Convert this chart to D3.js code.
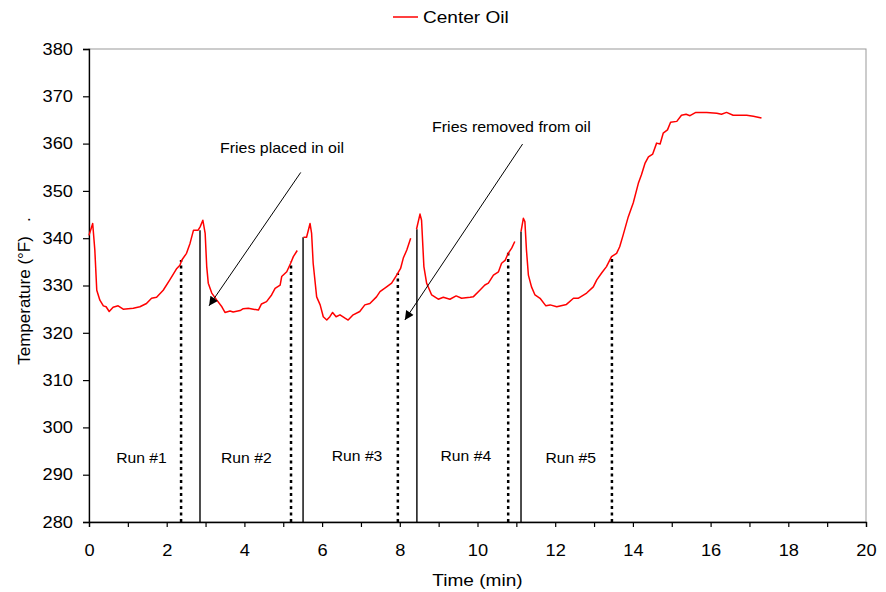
<!DOCTYPE html>
<html><head><meta charset="utf-8">
<script src="https://cdn.jsdelivr.net/npm/d3@7"></script>
<style>
body{margin:0;background:#fff;}
text{font-family:Arial,"Liberation Sans",sans-serif;fill:#000;}
</style></head>
<body><svg id="c" width="886" height="592"></svg>
<script>
// ---- data ----
const time = [0,0.095,0.15,0.2,0.28,0.37,0.44,0.52,0.62,0.75,0.88,1.14,1.31,1.48,1.61,1.74,1.91,2.08,2.26,2.34,2.39,2.51,2.6,2.69,2.81,2.86,2.93,2.99,3.03,3.07,3.16,3.29,3.42,3.5,3.63,3.71,3.89,3.97,4.1,4.23,4.36,4.44,4.57,4.7,4.79,4.92,4.96,5.09,5.19,5.26,5.36,
 5.44,
 5.52,5.6,5.69,5.73,5.77,5.86,5.95,6.03,6.12,6.2,6.27,6.36,6.46,6.59,6.67,6.8,6.97,7.1,7.23,7.4,7.49,7.66,7.79,7.92,8.02,8.09,8.18,8.28,
 8.36,
 8.43,8.52,8.56,8.62,8.69,8.82,8.99,9.12,9.29,9.45,9.59,9.81,9.89,10.06,10.19,10.28,10.41,10.54,10.62,10.71,10.79,10.88,10.96,
 11.04,
 11.12,11.18,11.22,11.26,11.31,11.39,11.48,11.61,11.76,11.87,12.04,12.29,12.47,12.59,12.81,12.98,13.07,13.2,13.32,13.45,13.58,13.66,13.75,13.88,14.01,14.14,14.22,14.31,14.4,14.51,14.61,14.7,14.78,14.89,14.97,15.13,15.25,15.37,15.47,15.62,15.9,16.16,16.28,16.41,16.58,16.93,17.1,17.31];
const centerOil = [340.6,343.1,337.5,329,326.9,325.7,325.5,324.5,325.4,325.7,325,325.2,325.5,326.2,327.3,327.5,329,331.2,333.6,334.3,335.4,336.8,338.9,341.7,341.7,342.4,343.8,341,334,330.5,328.4,326.9,325.5,324.3,324.6,324.4,324.7,325.1,325.2,325,324.8,326.1,326.6,328,329.4,330.1,331.9,332.9,334.7,336.1,337.4,
 null,
 340.2,340.2,343.1,341,334.7,327.6,325.9,323.4,322.7,323.4,324.3,323.4,323.8,323.1,322.7,323.8,324.5,325.9,326.2,327.6,328.7,329.7,330.5,332.2,333.6,335.8,337.5,340,
 null,
 341.9,345.1,343.8,334,330.5,328,327.1,327.5,327.1,327.8,327.3,327.5,327.6,329,330.1,330.5,332.2,332.9,334.7,335.3,336.8,337.9,339.3,
 null,
 341.4,344.2,343.5,337.5,332.2,329.7,328,327.3,325.7,325.9,325.5,326,327.3,327.3,328.4,329.7,331.2,332.7,334,336.1,336.8,338.2,340.7,344.5,347.5,351.6,353.4,355.8,357.2,357.8,360.1,359.9,362.2,362.9,364.5,364.7,366,366.2,365.9,366.6,366.6,366.4,366.2,366.6,366,366,365.8,365.4];

// fries placed (solid) and removed (dotted) markers: time, temperature at top
const placedTime = [2.857, 5.51, 8.44, 11.12];
const placedTop  = [341.7, 340.2, 341.9, 341.4];
const removedTime = [2.37, 5.2, 7.95, 10.79, 13.46];
const removedTop  = [335.4, 335.0, 332.6, 336.9, 336.2];

const runLabels = ["Run #1","Run #2","Run #3","Run #4","Run #5"];
const runX = [1.35, 4.05, 6.9, 9.7, 12.4];
const runY = [292.4, 292.4, 293.0, 293.0, 292.4];

const notes = ["Fries placed in oil","Fries removed from oil"];
const noteX = [3.37, 8.83];
const noteY = [358.0, 362.5];
const arrowFrom = [[5.45,353.9],[11.16,359.9]];
const arrowTo   = [[3.09,325.7],[8.13,322.7]];

const xTicks = d3.range(0, 21, 2);
const yTicks = d3.range(280, 381, 10);
const seriesName = "Center Oil";

// ---- layout ----
const svg = d3.select("#c");
const m = {l:89, r:20, t:49, b:70};
const W = 886, H = 592;
const x = d3.scaleLinear().domain([0,20]).range([m.l, W-m.r]);
const y = d3.scaleLinear().domain([280,380]).range([H-m.b, m.t]);

// horizontally widen text to mimic the reference's stretched glyphs
function stretch(sel, f){
  sel.each(function(){
    const L = this.getComputedTextLength();
    d3.select(this).attr("textLength", L*f).attr("lengthAdjust","spacingAndGlyphs");
  });
}

// plot border (grey top/right)
svg.append("rect").attr("x",x(0)).attr("y",y(380)).attr("width",x(20)-x(0)).attr("height",y(280)-y(380))
  .attr("fill","none").attr("stroke","#999").attr("stroke-width",1);

// axes
svg.append("g").attr("class","xa").attr("transform",`translate(0,${y(280)})`)
  .call(d3.axisBottom(x).tickValues(xTicks).tickSize(5).tickPadding(17).tickFormat(d3.format("d")));
svg.append("g").attr("transform",`translate(0,${y(280)})`)
  .call(d3.axisBottom(x).tickValues(d3.range(1,20,2)).tickSize(5).tickFormat(""))
  .call(g=>g.select(".domain").remove());
svg.append("g").attr("class","ya").attr("transform",`translate(${x(0)},0)`)
  .call(d3.axisLeft(y).tickValues(yTicks).tickSize(6).tickPadding(10));
svg.selectAll(".domain").attr("stroke","#000").attr("stroke-width",1.3);
svg.selectAll(".tick line").attr("stroke","#000").attr("stroke-width",1.2);
svg.selectAll(".tick text").style("font-size","16.3px").attr("fill","#000");
stretch(svg.selectAll(".tick text"), 1.12);

// solid placed lines
svg.append("g").selectAll("line").data(placedTime).join("line")
  .attr("x1",d=>x(d)).attr("x2",d=>x(d))
  .attr("y1",y(280)).attr("y2",(d,i)=>y(placedTop[i]))
  .attr("stroke","#000").attr("stroke-width",1.4);
// dotted removed lines
svg.append("g").selectAll("line").data(removedTime).join("line")
  .attr("x1",d=>x(d)).attr("x2",d=>x(d))
  .attr("y1",y(280)).attr("y2",(d,i)=>y(removedTop[i]))
  .attr("stroke","#000").attr("stroke-width",2.5).attr("stroke-dasharray","3,3.5");

// red line
const pts = time.map((t,i)=>[t, centerOil[i]]);
svg.append("path").datum(pts)
  .attr("d", d3.line().defined(d=>d[1]!==null).x(d=>x(d[0])).y(d=>y(d[1])))
  .attr("fill","none").attr("stroke","#ff0000").attr("stroke-width",1.5).attr("stroke-linejoin","round");

// run labels
const rl = svg.append("g").selectAll("text").data(runLabels).join("text")
  .attr("x",(d,i)=>x(runX[i])).attr("y",(d,i)=>y(runY[i]))
  .attr("text-anchor","middle").style("font-size","14px").text(d=>d);
stretch(rl, 1.12);

// annotations with arrows
svg.append("defs").append("marker").attr("id","ah").attr("viewBox","0 0 10 10")
  .attr("refX",10).attr("refY",5).attr("markerWidth",14).attr("markerHeight",9)
  .attr("markerUnits","userSpaceOnUse").attr("orient","auto")
  .append("path").attr("d","M0,0 L10,5 L0,10 Z").attr("fill","#000");
svg.append("g").selectAll("line").data(arrowFrom).join("line")
  .attr("x1",d=>x(d[0])).attr("y1",d=>y(d[1]))
  .attr("x2",(d,i)=>x(arrowTo[i][0])).attr("y2",(d,i)=>y(arrowTo[i][1]))
  .attr("stroke","#000").attr("stroke-width",1).attr("marker-end","url(#ah)");
const nt = svg.append("g").selectAll("text").data(notes).join("text")
  .attr("x",(d,i)=>x(noteX[i])).attr("y",(d,i)=>y(noteY[i]))
  .style("font-size","14.5px").text(d=>d);
stretch(nt, 1.1);

// axis titles
const xt = svg.append("text").attr("x",(x(0)+x(20))/2).attr("y",586).attr("text-anchor","middle")
  .style("font-size","17px").text("Time (min)");
stretch(xt, 1.12);
svg.append("text").attr("transform",`translate(30,${291}) rotate(-90)`).attr("text-anchor","middle")
  .style("font-size","17px").text("Temperature (°F)\u00a0\u00a0\u00a0.");

// legend
svg.append("line").attr("x1",393).attr("x2",418).attr("y1",17).attr("y2",17)
  .attr("stroke","#ff0000").attr("stroke-width",1.5);
const lt = svg.append("text").attr("x",423).attr("y",23).style("font-size","16.3px").text(seriesName);
stretch(lt, 1.17);
</script></body></html>
